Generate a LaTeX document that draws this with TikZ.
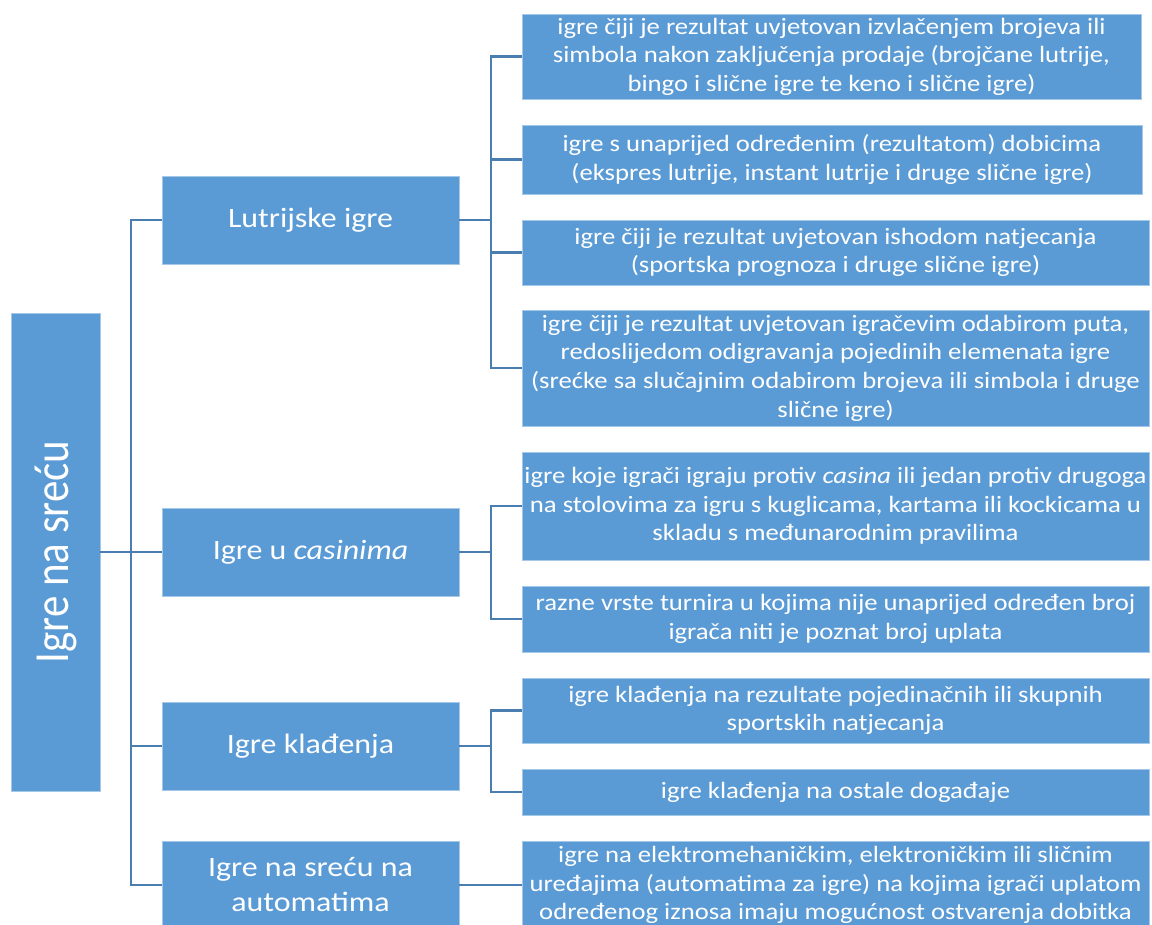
\documentclass[tikz,border=0pt]{standalone}
\usepackage{fontspec}
\setmainfont{Carlito}[FakeStretch=1.14]
\newfontfamily\rootfont{Carlito}
\definecolor{boxblue}{HTML}{5B9BD5}
\definecolor{connblue}{HTML}{4A7DB0}
\begin{document}
\begin{tikzpicture}[x=1pt,y=-1pt,
  box/.style={rectangle, fill=boxblue, draw=boxblue!55!white, line width=0.8pt, text=white, align=center, inner sep=0pt},
  rootbox/.style={box, minimum width=89pt, minimum height=478pt},
  lvlone/.style={box, minimum width=297pt, minimum height=88pt, font=\fontsize{28}{35}\selectfont},
  leaf/.style={box, font=\fontsize{23.4}{28.6}\selectfont},
  conn/.style={draw=connblue, line width=2.3pt}]
\useasboundingbox (0,0) rectangle (1152,925);
\clip (0,0) rectangle (1152,925);

% root
\node[rootbox] (root) at (55.5,552) {};
\node[rotate=90, text=white, font=\rootfont\fontsize{43}{48}\selectfont, inner sep=0pt] (roottext) at (root.center) {\scalebox{1}[1.14]{Igre na sreću}};

% level one
\node[lvlone] (lut) at (310.5,220) {Lutrijske igre};
\node[lvlone] (cas) at (310.5,552) {Igre u \textit{casinima}};
\node[lvlone] (kla) at (310.5,746) {Igre klađenja};
\node[lvlone] (aut) at (310.5,885) {Igre na sreću na\\automatima};

% leaves
\node[leaf, minimum width=619pt, minimum height=85pt] (l1) at (831.5,56.5) {igre čiji je rezultat uvjetovan izvlačenjem brojeva ili\\simbola nakon zaključenja prodaje (brojčane lutrije,\\bingo i slične igre te keno i slične igre)};
\node[leaf, minimum width=620pt, minimum height=69pt] (l2) at (832,159.5) {igre s unaprijed određenim (rezultatom) dobicima\\(ekspres lutrije, instant lutrije i druge slične igre)};
\node[leaf, minimum width=627pt, minimum height=65pt] (l3) at (835.5,252.5) {igre čiji je rezultat uvjetovan ishodom natjecanja\\(sportska prognoza i druge slične igre)};
\node[leaf, minimum width=627pt, minimum height=116pt] (l4) at (835.5,368) {igre čiji je rezultat uvjetovan igračevim odabirom puta,\\redoslijedom odigravanja pojedinih elemenata igre\\(srećke sa slučajnim odabirom brojeva ili simbola i druge\\slične igre)};
\node[leaf, minimum width=627pt, minimum height=108pt] (c1) at (835.5,506) {igre koje igrači igraju protiv \textit{casina} ili jedan protiv drugoga\\na stolovima za igru s kuglicama, kartama ili kockicama u\\skladu s međunarodnim pravilima};
\node[leaf, minimum width=627pt, minimum height=66pt] (c2) at (835.5,619) {razne vrste turnira u kojima nije unaprijed određen broj\\igrača niti je poznat broj uplata};
\node[leaf, minimum width=627pt, minimum height=65pt] (k1) at (835.5,710.5) {igre klađenja na rezultate pojedinačnih ili skupnih\\sportskih natjecanja};
\node[leaf, minimum width=627pt, minimum height=46pt] (k2) at (835.5,792) {igre klađenja na ostale događaje};
\node[leaf, minimum width=627pt, minimum height=88pt] (a1) at (835.5,885) {igre na elektromehaničkim, elektroničkim ili sličnim\\uređajima (automatima za igre) na kojima igrači uplatom\\određenog iznosa imaju mogućnost ostvarenja dobitka};

% branch coordinates
\coordinate (t0) at (131,552);
\coordinate (bl) at (491,220);
\coordinate (bc) at (491,552);
\coordinate (bk) at (491,746);

% root connectors
\draw[conn] (root.east) -- (t0);
\draw[conn] (lut.west) -| (t0) |- (aut.west);
\draw[conn] (cas.west) -- (cas.west -| t0);
\draw[conn] (kla.west) -- (kla.west -| t0);

% lutrijske
\draw[conn] (lut.east) -- (bl);
\draw[conn] (l1.west) -| (bl) |- (l4.west);
\draw[conn] (l2.west) -- (l2.west -| bl);
\draw[conn] (l3.west) -- (l3.west -| bl);

% casinima
\draw[conn] (cas.east) -- (bc);
\draw[conn] (c1.west) -| (bc) |- (c2.west);

% kladenja
\draw[conn] (kla.east) -- (bk);
\draw[conn] (k1.west) -| (bk) |- (k2.west);

% automatima
\draw[conn] (aut.east) -- (a1.west);
\end{tikzpicture}
\end{document}
